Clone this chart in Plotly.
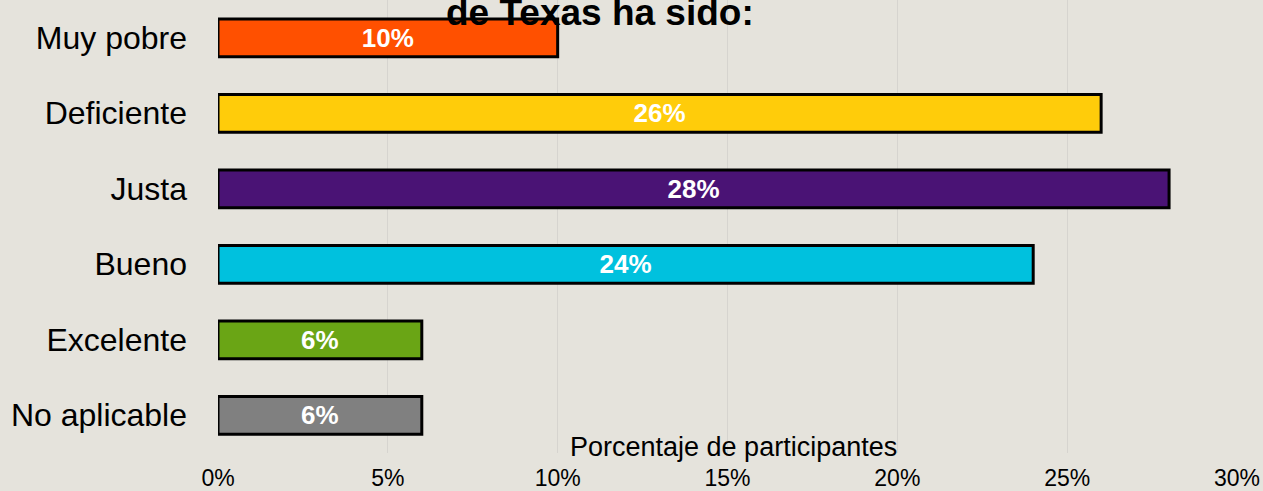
import plotly.graph_objects as go

categories = ["Muy pobre", "Deficiente", "Justa", "Bueno", "Excelente", "No aplicable"]
values = [10, 26, 28, 24, 6, 6]
colors = ["#FF5000", "#FFCC0A", "#4A1375", "#00C1DE", "#6AA515", "#808080"]
x_ticks = [0, 5, 10, 15, 20, 25, 30]
title_text = "de Texas ha sido:"
x_title = "Porcentaje de participantes"

BG = "#E5E3DC"
FONT = "Liberation Sans, Arial, sans-serif"

fig = go.Figure(
    go.Bar(
        y=categories,
        x=values,
        orientation="h",
        marker=dict(color=colors, line=dict(color="black", width=3)),
        text=[f"{v}%" for v in values],
        textposition="inside",
        insidetextanchor="middle",
        textangle=0,
        constraintext="none",
        textfont=dict(family=FONT, size=26, color="white", weight="bold"),
        hoverinfo="skip",
    )
)

fig.update_layout(
    width=1263,
    height=491,
    paper_bgcolor=BG,
    plot_bgcolor=BG,
    margin=dict(l=218, r=26, t=0, b=38),
    bargap=0.5,
    showlegend=False,
    font=dict(family=FONT, color="black"),
    xaxis=dict(
        range=[0, 30],
        tickvals=x_ticks,
        ticktext=[f"{v}%" for v in x_ticks],
        tickfont=dict(size=23, color="black"),
        ticklabelstandoff=9,
        showgrid=True,
        gridcolor="#D6D4CF",
        gridwidth=1,
        zeroline=False,
        showline=False,
        ticks="",
        fixedrange=True,
    ),
    yaxis=dict(
        categoryorder="array",
        categoryarray=categories,
        autorange="reversed",
        tickfont=dict(size=32, color="black"),
        ticks="",
        ticklabelstandoff=30,
        showgrid=False,
        zeroline=False,
        showline=False,
        fixedrange=True,
    ),
    annotations=[
        dict(
            text=f"<b>{title_text}</b>",
            xref="paper", yref="paper",
            x=(600 - 218) / (1237 - 218),
            y=(453 - 12) / 453,
            xanchor="center", yanchor="middle",
            showarrow=False,
            font=dict(family=FONT, size=37, color="black"),
        ),
        dict(
            text=x_title,
            xref="paper", yref="paper",
            x=(733 - 218) / (1237 - 218),
            y=(453 - 447) / 453,
            xanchor="center", yanchor="middle",
            showarrow=False,
            font=dict(family=FONT, size=27, color="black"),
        ),
    ],
)

fig.write_html(
    "out.html",
    config={"displayModeBar": False, "staticPlot": True},
    post_script="document.body.style.margin='0';document.body.style.background='" + BG + "';",
)
